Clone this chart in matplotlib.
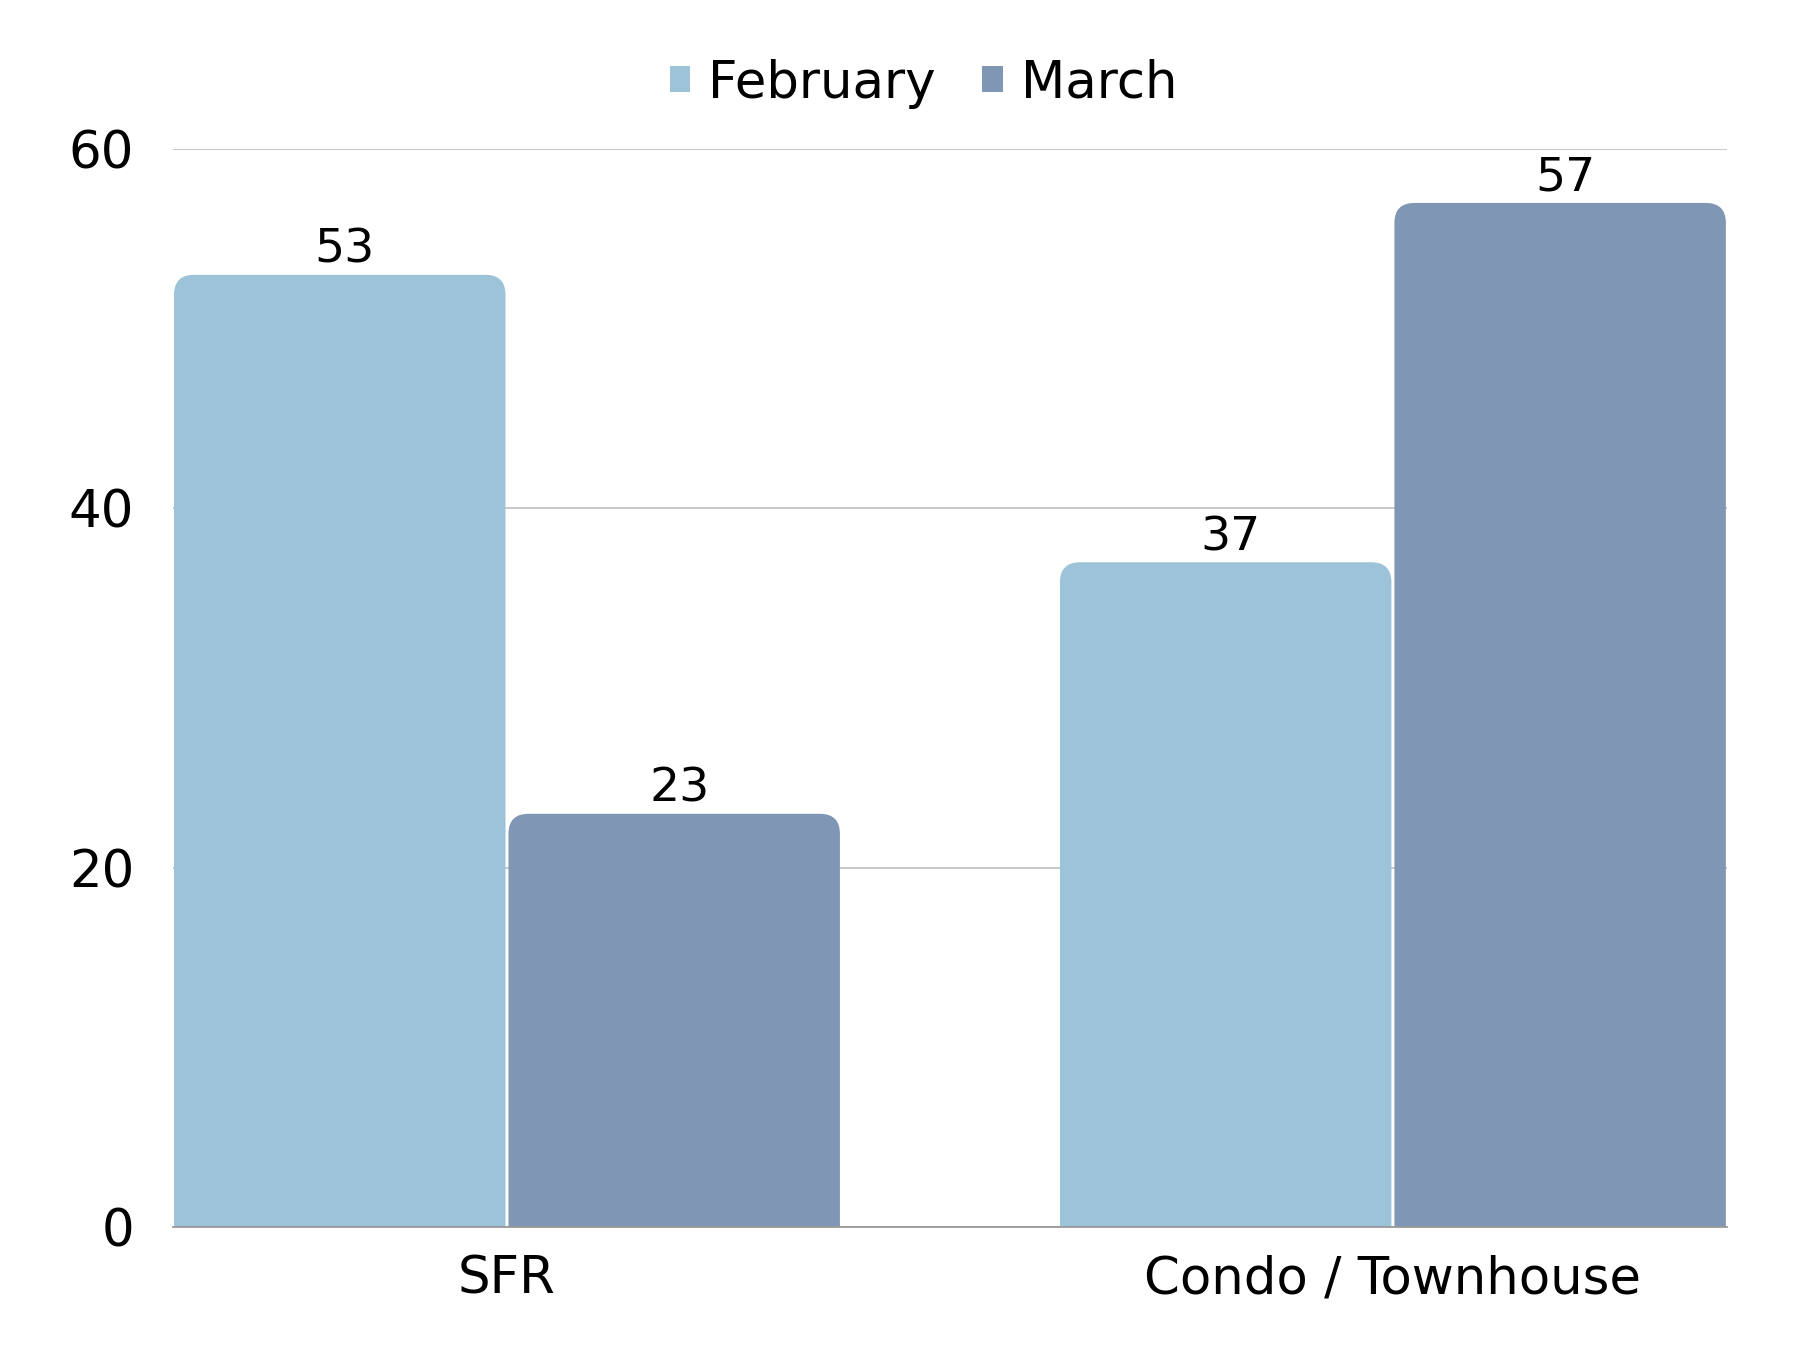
import matplotlib
matplotlib.use("Agg")
import matplotlib.pyplot as plt
from matplotlib.patches import FancyBboxPatch, Rectangle
import numpy as np

categories = ["SFR", "Condo / Townhouse"]
series = ["February", "March"]
feb = [53, 37]
mar = [23, 57]
colors = ["#9cc3d8", "#7f97b4"]

plt.rcParams["font.family"] = ["DejaVu Sans"]

fig = plt.figure(figsize=(18, 13.5), dpi=100)
ax = fig.add_axes([0.0961, 0.0911, 0.8633, 0.7985])

x = np.arange(len(categories))
width = 0.3775
ax.set_xlim(-0.377, 1.377)
ax.set_ylim(0, 60)

# rounded-top bars: convert pixel radius to data units
fig.canvas.draw()
bb = ax.get_window_extent()
px_x = (1.377 + 0.377) / bb.width
px_y = 60 / bb.height
r_px = 20
for vals, col, off in [(feb, colors[0], -width / 2), (mar, colors[1], width / 2)]:
    for xi, v in zip(x, vals):
        left = xi + off - width / 2 + 1.5 * px_x
        w = width - 3 * px_x
        p = FancyBboxPatch((left, -r_px * px_y * 2), w, v + r_px * px_y * 2,
                           boxstyle="round,pad=0,rounding_size=%f" % (r_px * px_x),
                           mutation_aspect=px_y / px_x,
                           facecolor=col, edgecolor="none", zorder=3)
        ax.add_patch(p)
        ax.text(xi + off + 5 * px_x, v + 12 * px_y, str(v), ha="center", va="baseline",
                fontsize=34, color="black", zorder=4)

ax.set_yticks([0, 20, 40, 60])
ax.yaxis.grid(True, color="#c4c4c4", linewidth=1.3, zorder=0)
ax.set_axisbelow(True)
for s in ["top", "right", "left"]:
    ax.spines[s].set_visible(False)
ax.spines["bottom"].set_color("#999999")
ax.spines["bottom"].set_linewidth(1.3)
ax.spines["bottom"].set_zorder(5)
ax.set_xticks(x)
ax.set_xticklabels(categories)
ax.tick_params(axis="both", length=0, labelsize=37)
ax.tick_params(axis="y", pad=28)
ax.tick_params(axis="x", pad=20)

handles = [Rectangle((0, 0), 1, 1, facecolor=c) for c in colors]
fig.legend(handles, series, loc="center", bbox_to_anchor=(0.513, 0.938), ncol=2,
           frameon=False, fontsize=37, handlelength=0.4, handleheight=0.4,
           handletextpad=0.35, columnspacing=0.9)

fig.savefig("out.png", dpi=100)
